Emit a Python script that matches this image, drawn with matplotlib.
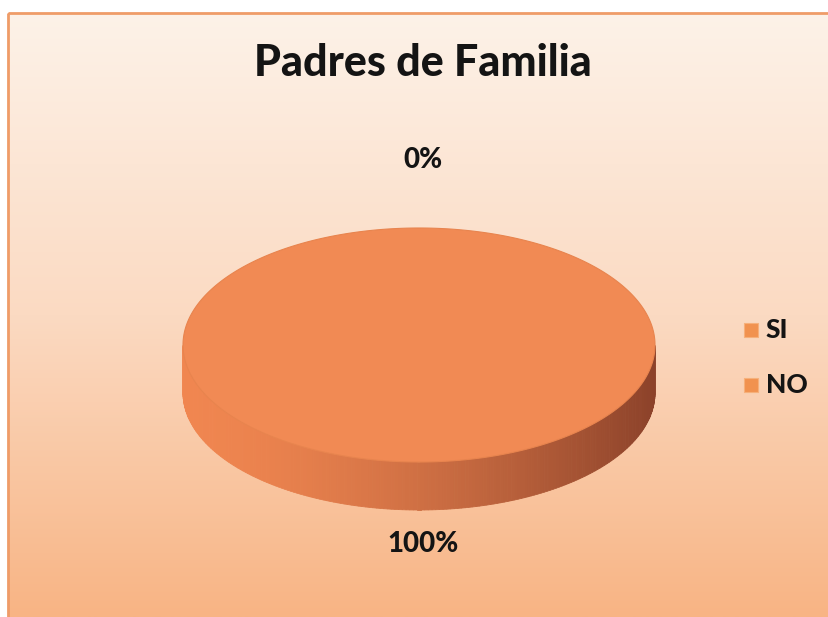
import numpy as np
import matplotlib.pyplot as plt
from matplotlib.patches import Polygon, Rectangle
from matplotlib.colors import LinearSegmentedColormap

categories = ["SI", "NO"]
values = [0, 100]
title = "Padres de Familia"

W, H = 829, 617
FONT = ["Lato", "DejaVu Sans"]

fig = plt.figure(figsize=(W / 100, H / 100), dpi=100)
ax = fig.add_axes([0, 0, 1, 1])
ax.set_xlim(0, W)
ax.set_ylim(H, 0)
ax.axis("off")

# chart area background: soft vertical gradient with orange frame
bg = LinearSegmentedColormap.from_list("bg", ["#fdf2e8", "#fbdac2", "#f8b484"])
grad = np.linspace(0, 1, 256).reshape(-1, 1)
ax.imshow(grad, cmap=bg, extent=(8, W, H, 13), aspect="auto", zorder=0)
ax.add_patch(Rectangle((8, 13), W - 6, H, fill=False, ec="#ef9c68", lw=2, zorder=1))

ax.text(423, 63, title, ha="center", va="center", fontsize=31,
        fontweight="black", family=FONT, color="#141414", zorder=5)

# 3d pie geometry
cx, cy = 419, 345
rx, ry = 236, 117
depth = 48
top_col = np.array([241, 138, 84]) / 255
side_light = np.array([240, 134, 80]) / 255
side_dark = np.array([140, 66, 42]) / 255


def ell(theta, dy=0.0):
    return cx + rx * np.cos(theta), cy - ry * np.sin(theta) + dy


total = sum(values)
start = np.pi / 2
angles = []
for v in values:
    span = 2 * np.pi * v / total
    angles.append((start - span, start))
    start -= span

for (a0, a1), v in zip(angles, values):
    if v == 0:
        continue
    # side wall, only the front half (sin < 0) is visible
    th = np.linspace(a0, a1, 400)
    for t0, t1 in zip(th[:-1], th[1:]):
        if np.sin((t0 + t1) / 2) > 0:
            continue
        x0, y0 = ell(t0)
        x1, y1 = ell(t1)
        k = ((np.cos((t0 + t1) / 2) + 1) / 2) ** 1.6
        col = side_light * (1 - k) + side_dark * k
        ax.add_patch(Polygon([(x0, y0), (x1, y1), (x1, y1 + depth), (x0, y0 + depth)],
                             closed=True, fc=col, ec=col, lw=0.6, zorder=2))
    # top face
    xs, ys = ell(th)
    pts = list(zip(xs, ys))
    if a1 - a0 < 2 * np.pi - 1e-9:
        pts = [(cx, cy)] + pts
    ax.add_patch(Polygon(pts, closed=True, fc=top_col, ec="#e8844e", lw=0.8, zorder=3))

# percentage labels at each slice's middle angle
for (a0, a1), v in zip(angles, values):
    mid = (a0 + a1) / 2
    s = np.sin(mid)
    lx = cx + rx * 0.05 * np.cos(mid) + (4 if s > 0 else 4)
    ly = cy - ry * np.sin(mid) * (1.58 if s > 0 else 1.33) + (depth * 0.9 if s < 0 else 0)
    ax.text(lx, ly, f"{v / total * 100:.0f}%", ha="center", va="center",
            fontsize=20, fontweight="black", family=FONT, color="#141414", zorder=5)

# legend
for i, name in enumerate(categories):
    y = 330 + i * 55
    ax.add_patch(Rectangle((744, y - 7), 14, 14, fc="#f1924f", ec="#f6b07a", lw=0.8, zorder=4))
    ax.text(766, y, name, ha="left", va="center", fontsize=19, fontweight="black",
            family=FONT, color="#141414", zorder=5)

fig.savefig("out.png", dpi=100, facecolor="white")
